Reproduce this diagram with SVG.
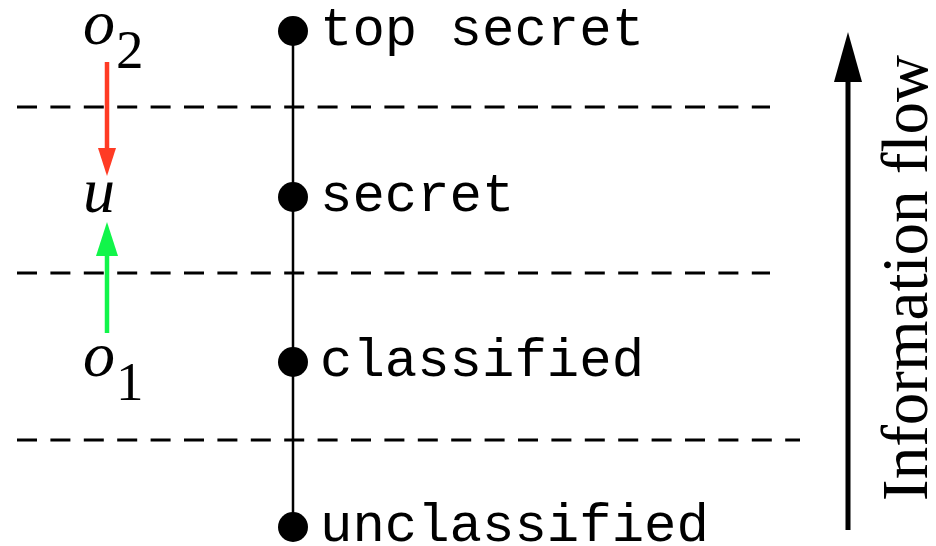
<svg xmlns="http://www.w3.org/2000/svg" width="936" height="546" viewBox="0 0 936 546">
<style>
.dash{stroke:#000;stroke-width:3;stroke-dasharray:20 13.4;fill:none}
.lvl{font-family:"Liberation Mono","Courier New",monospace;font-size:54px;fill:#000}
.it{font-family:"Liberation Serif","Times New Roman",serif;font-style:italic;font-size:64px;fill:#000}
.sub{font-family:"Liberation Serif","Times New Roman",serif;font-size:55px;fill:#000}
.dot{fill:#000}
</style>
<g id="separators">
<line class="dash" x1="17" y1="107" x2="770" y2="107"/>
<line class="dash" x1="17" y1="273" x2="770" y2="273"/>
<line class="dash" x1="17" y1="440" x2="800" y2="440"/>
</g>
<g id="connectors">
<line x1="293" y1="30" x2="293" y2="527" stroke="#000" stroke-width="2.5"/>
<line x1="107" y1="62" x2="107" y2="150" stroke="#ff3b24" stroke-width="4.5"/>
<polygon points="98,148 116,148 107,176" fill="#ff3b24"/>
<line x1="107" y1="333" x2="107" y2="252" stroke="#11f54a" stroke-width="4.5"/>
<polygon points="96,256 118,256 107,222" fill="#11f54a"/>
<line x1="848" y1="530" x2="848" y2="78" stroke="#000" stroke-width="5"/>
<polygon points="834,82 862,82 848,32" fill="#000"/>
</g>
<g id="top-secret"><circle class="dot" cx="293" cy="31" r="15"/><text class="lvl" x="320" y="45">top secret</text></g>
<g id="secret"><circle class="dot" cx="293" cy="197" r="15"/><text class="lvl" x="320" y="211">secret</text></g>
<g id="classified"><circle class="dot" cx="293" cy="362" r="15"/><text class="lvl" x="320" y="376">classified</text></g>
<g id="unclassified"><circle class="dot" cx="293" cy="527" r="15"/><text class="lvl" x="320" y="541">unclassified</text></g>
<g id="o2"><text class="it" x="83" y="44">o</text><text class="sub" x="116" y="68">2</text></g>
<g id="u"><text class="it" x="83" y="212">u</text></g>
<g id="o1"><text class="it" x="83" y="376">o</text><text class="sub" x="116" y="400">1</text></g>
<g id="flow-label"><text font-family="'Liberation Serif','Times New Roman',serif" font-size="65" fill="#000" text-anchor="middle" transform="translate(927,278) rotate(-90)">Information flow</text></g>
</svg>
